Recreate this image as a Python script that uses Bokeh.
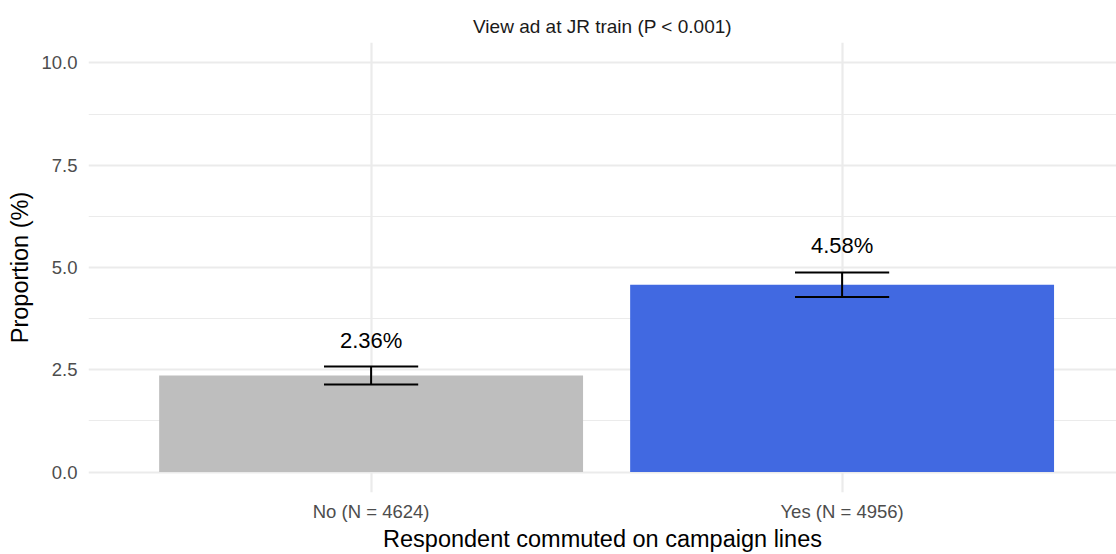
from bokeh.plotting import figure
from bokeh.models import ColumnDataSource, FixedTicker, Range1d, LabelSet
from bokeh.core.properties import value
from bokeh.embed import file_html
from bokeh.resources import INLINE

# ---- data ----
categories = ["No (N = 4624)", "Yes (N = 4956)"]
proportions = [2.36, 4.58]
ci_lower = [2.14, 4.28]
ci_upper = [2.58, 4.88]
bar_colors = ["#BEBEBE", "#4169E1"]
y_ticks = [0, 2.5, 5, 7.5, 10]
y_tick_labels = ["0.0", "2.5", "5.0", "7.5", "10.0"]
y_minor = [1.25, 3.75, 6.25, 8.75]
title_text = "View ad at JR train (P < 0.001)"
x_title = "Respondent commuted on campaign lines"
y_title = "Proportion (%)"

FONT = "Liberation Sans"
xs = list(range(1, len(categories) + 1))
cap_half = 0.1

src = ColumnDataSource(dict(
    x=xs, top=proportions, lo=ci_lower, hi=ci_upper, color=bar_colors,
    x0=[x - cap_half for x in xs], x1=[x + cap_half for x in xs],
    lab=[f"{v:.2f}%" for v in proportions],
))

p = figure(
    output_backend="svg", toolbar_location=None,
    frame_width=1028, frame_height=450,
    min_border_left=88, min_border_right=0, min_border_top=42, min_border_bottom=62,
    x_range=Range1d(0.4, 0.4 + 1028 / 471), y_range=Range1d(-0.5, 10.5),
    title=title_text,
)
p.outline_line_color = None
p.background_fill_color = "white"
p.border_fill_color = "white"

p.title.align = "center"
p.title.text_font = FONT
p.title.text_font_size = "19px"
p.title.text_font_style = "normal"
p.title.text_color = "#1A1A1A"
p.title.standoff = 12

p.vbar(x="x", top="top", bottom=0, width=0.9, color="color", source=src, line_color=None)
p.segment(x0="x", x1="x", y0="lo", y1="hi", source=src, line_color="black", line_width=2)
p.segment(x0="x0", x1="x1", y0="lo", y1="lo", source=src, line_color="black", line_width=2)
p.segment(x0="x0", x1="x1", y0="hi", y1="hi", source=src, line_color="black", line_width=2)

labels = LabelSet(x="x", y="hi", text="lab", source=src, y_offset=19,
                  text_align="center", text_baseline="alphabetic",
                  text_font=value(FONT), text_font_size=value("22px"), text_color="black")
p.add_layout(labels)

# axes
p.xaxis.ticker = FixedTicker(ticks=xs)
p.xaxis.major_label_overrides = {x: c for x, c in zip(xs, categories)}
p.yaxis.ticker = FixedTicker(ticks=y_ticks, minor_ticks=y_minor)
p.yaxis.major_label_overrides = {t: l for t, l in zip(y_ticks, y_tick_labels)}

for ax in (p.xaxis, p.yaxis):
    ax.axis_line_color = None
    ax.major_tick_line_color = None
    ax.minor_tick_line_color = None
    ax.major_tick_out = 0
    ax.major_tick_in = 0
    ax.minor_tick_out = 0
    ax.minor_tick_in = 0
    ax.major_label_text_font = FONT
    ax.major_label_text_font_size = "18.5px"
    ax.major_label_text_color = "#4D4D4D"
    ax.axis_label_text_font = FONT
    ax.axis_label_text_font_size = "23.5px"
    ax.axis_label_text_font_style = "normal"
    ax.axis_label_text_color = "black"

p.xaxis.axis_label = x_title
p.yaxis.axis_label = y_title
p.xaxis.major_label_standoff = 8
p.xaxis.axis_label_standoff = 1
p.yaxis.major_label_standoff = 11
p.yaxis.axis_label_standoff = 5

p.xgrid.grid_line_color = "#EBEBEB"
p.xgrid.grid_line_width = 2.2
p.ygrid.grid_line_color = "#EBEBEB"
p.ygrid.grid_line_width = 2.2
p.ygrid.minor_grid_line_color = "#EBEBEB"
p.ygrid.minor_grid_line_width = 1.2

open("out.html", "w").write(file_html(p, INLINE))
